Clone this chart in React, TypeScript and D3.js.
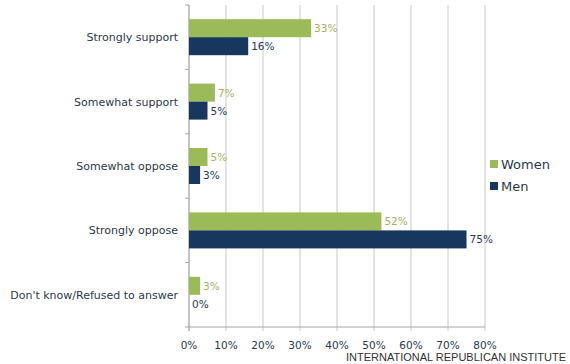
import React from "react";
import * as d3 from "d3";

const categories = [
  "Strongly support",
  "Somewhat support",
  "Somewhat oppose",
  "Strongly oppose",
  "Don't know/Refused to answer",
];
const women = [33, 7, 5, 52, 3];
const men = [16, 5, 3, 75, 0];
const xTicks = [0, 10, 20, 30, 40, 50, 60, 70, 80];
const seriesNames = ["Women", "Men"];

const GREEN = "#9BBB59";
const NAVY = "#17375E";
const GREEN_TEXT = "#A3B25F";
const NAVY_TEXT = "#1F3A5A";

export default function App() {
  const W = 570, H = 364;
  const x = d3.scaleLinear().domain([0, 80]).range([189, 485]);
  const y = d3.scaleBand().domain(categories).range([5, 327]);
  const barH = 18;
  const font = "'DejaVu Sans', Verdana, sans-serif";

  return (
    <svg width={W} height={H} style={{ position: "absolute", left: 0, top: 0, background: "#fff" }}>
      {xTicks.map((t) => (
        <line key={"g" + t} x1={x(t)} x2={x(t)} y1={5} y2={331} stroke="#C8C8C8" strokeWidth={1} />
      ))}
      <line x1={189} x2={189} y1={5} y2={331} stroke="#A6A6A6" />
      <line x1={189} x2={485} y1={327} y2={327} stroke="#A6A6A6" />
      {categories.map((c, i) => (
        <line key={"t" + i} x1={185} x2={189} y1={y(c)!} y2={y(c)!} stroke="#A6A6A6" />
      ))}
      <line x1={185} x2={189} y1={327} y2={327} stroke="#A6A6A6" />
      {categories.map((c, i) => {
        const cy = y(c)! + y.bandwidth() / 2;
        return (
          <g key={"b" + i}>
            <rect x={x(0)} y={cy - barH} width={x(women[i]) - x(0)} height={barH} fill={GREEN} />
            <rect x={x(0)} y={cy} width={x(men[i]) - x(0)} height={barH} fill={NAVY} />
            <text x={x(women[i]) + 3} y={cy - barH / 2 + 4} fontSize={10.5} fill={GREEN_TEXT} fontFamily={font}>
              {women[i]}%
            </text>
            <text x={x(men[i]) + 3} y={cy + barH / 2 + 4} fontSize={10.5} fill={NAVY_TEXT} fontFamily={font}>
              {men[i]}%
            </text>
            <text x={178} y={cy + 4} textAnchor="end" fontSize={11} fill="#2B3A4A" fontFamily={font}>
              {c}
            </text>
          </g>
        );
      })}
      {xTicks.map((t) => (
        <text key={"xl" + t} x={x(t)} y={349} textAnchor="middle" fontSize={10.5} fill="#2B3A4A" fontFamily={font}>
          {t}%
        </text>
      ))}
      {seriesNames.map((s, i) => (
        <g key={"l" + s}>
          <rect x={490} y={160 + i * 22} width={8} height={8} fill={i === 0 ? GREEN : NAVY} />
          <text x={501} y={169 + i * 22} fontSize={13} fill="#2B3A4A" fontFamily={font}>
            {s}
          </text>
        </g>
      ))}
      <text x={566} y={361} textAnchor="end" fontSize={11} fill="#333" fontFamily="'Liberation Sans', Arial, sans-serif">
        INTERNATIONAL REPUBLICAN INSTITUTE
      </text>
    </svg>
  );
}
